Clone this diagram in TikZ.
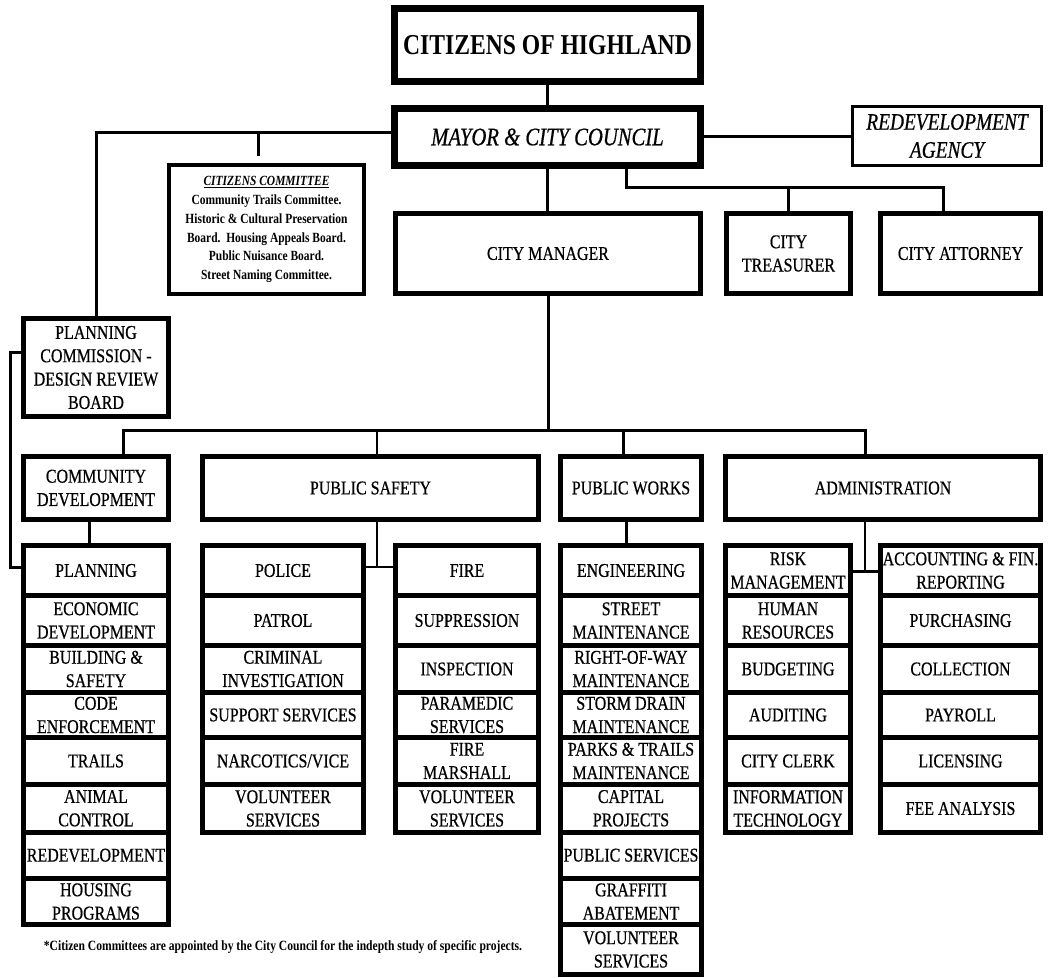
\documentclass[tikz,border=0pt]{standalone}
\usepackage{fontspec}
\setmainfont{Liberation Serif}[FakeStretch=0.82, UprightFeatures={FakeBold=0.6}, ItalicFeatures={FakeBold=0.6}]
\usetikzlibrary{calc}
\tikzset{
  box/.style={draw, line width=3.75pt, inner sep=0pt, outer sep=0pt, align=center,
    font=\fontsize{14.6}{17.5}\selectfont},
  heavy/.style={line width=5.25pt},
  lightbox/.style={line width=2.25pt},
  conn/.style={line width=2.25pt},
  thinconn/.style={line width=1.1pt},
}
\newcommand\orgbox[7][]{\node[box,#1,minimum width={(#5-#3)*0.75pt},minimum height={(#6-#4)*0.75pt}] (#2) at ({(#3+#5)/2},{(#4+#6)/2}) {#7};}
\begin{document}
\begin{tikzpicture}[x=0.75pt,y=-0.75pt]
\useasboundingbox (0,0) rectangle (1062,977);
% top level
\orgbox[heavy,font=\fontsize{21.6}{24}\selectfont\bfseries]{citizens}{394.5}{8.5}{700.5}{81.5}{CITIZENS OF HIGHLAND}
\orgbox[heavy,font=\fontsize{18.9}{21}\selectfont\itshape]{mayor}{394.5}{108.5}{700.5}{165.5}{MAYOR \& CITY COUNCIL}
\orgbox[lightbox,font=\fontsize{17.7}{21}\selectfont\itshape]{redev}{852.5}{106.5}{1041.5}{165.5}{REDEVELOPMENT\\AGENCY}
\orgbox[line width=3.4pt,font=\fontsize{10.5}{14.2}\selectfont\bfseries]{committee}{169}{165}{364}{294}{\underline{\textit{CITIZENS COMMITTEE}}\\Community Trails Committee.\\Historic \& Cultural Preservation\\Board.\ \ Housing Appeals Board.\\Public Nuisance Board.\\Street Naming Committee.}
\orgbox{cityman}{395.5}{213.5}{700.5}{293.5}{CITY MANAGER}
\orgbox{treasurer}{726.5}{213.5}{850.5}{293.5}{CITY\\TREASURER}
\orgbox{attorney}{880.5}{213.5}{1040.5}{293.5}{CITY ATTORNEY}
\orgbox{plancom}{23.5}{318.5}{168.5}{416.5}{PLANNING\\COMMISSION -\\DESIGN REVIEW\\BOARD}
% departments
\orgbox{commdev}{23.5}{456.5}{168.5}{519.5}{COMMUNITY\\DEVELOPMENT}
\orgbox{pubsafe}{202.5}{456.5}{538.5}{519.5}{PUBLIC SAFETY}
\orgbox{pubworks}{560.5}{456.5}{701.5}{519.5}{PUBLIC WORKS}
\orgbox{admin}{725.5}{456.5}{1040.5}{519.5}{ADMINISTRATION}
% community development column
\orgbox{cd1}{23.5}{545.5}{168.5}{595.5}{PLANNING}
\orgbox{cd2}{23.5}{595.5}{168.5}{645.5}{ECONOMIC\\DEVELOPMENT}
\orgbox{cd3}{23.5}{645.5}{168.5}{692.5}{BUILDING \&\\SAFETY}
\orgbox{cd4}{23.5}{692.5}{168.5}{737.5}{CODE\\ENFORCEMENT}
\orgbox{cd5}{23.5}{737.5}{168.5}{784.5}{TRAILS}
\orgbox{cd6}{23.5}{784.5}{168.5}{832}{ANIMAL\\CONTROL}
\orgbox{cd7}{23.5}{832}{168.5}{878.5}{\makebox[100pt][c]{REDEVELOPMENT}}
\orgbox{cd8}{23.5}{878.5}{168.5}{924.5}{HOUSING\\PROGRAMS}
% police column
\orgbox{po1}{202.5}{545.5}{363.5}{595.5}{POLICE}
\orgbox{po2}{202.5}{595.5}{363.5}{645.5}{PATROL}
\orgbox{po3}{202.5}{645.5}{363.5}{692.5}{CRIMINAL\\INVESTIGATION}
\orgbox{po4}{202.5}{692.5}{363.5}{737.5}{SUPPORT SERVICES}
\orgbox{po5}{202.5}{737.5}{363.5}{784.5}{NARCOTICS/VICE}
\orgbox{po6}{202.5}{784.5}{363.5}{832.5}{VOLUNTEER\\SERVICES}
% fire column
\orgbox{fi1}{395.5}{545.5}{538.5}{595.5}{FIRE}
\orgbox{fi2}{395.5}{595.5}{538.5}{645.5}{SUPPRESSION}
\orgbox{fi3}{395.5}{645.5}{538.5}{692.5}{INSPECTION}
\orgbox{fi4}{395.5}{692.5}{538.5}{737.5}{PARAMEDIC\\SERVICES}
\orgbox{fi5}{395.5}{737.5}{538.5}{784.5}{FIRE\\MARSHALL}
\orgbox{fi6}{395.5}{784.5}{538.5}{832.5}{VOLUNTEER\\SERVICES}
% public works column
\orgbox{pw1}{560.5}{545.5}{701.5}{595.5}{ENGINEERING}
\orgbox{pw2}{560.5}{595.5}{701.5}{645.5}{STREET\\MAINTENANCE}
\orgbox{pw3}{560.5}{645.5}{701.5}{692.5}{RIGHT-OF-WAY\\MAINTENANCE}
\orgbox{pw4}{560.5}{692.5}{701.5}{737.5}{STORM DRAIN\\MAINTENANCE}
\orgbox{pw5}{560.5}{737.5}{701.5}{784.5}{PARKS \& TRAILS\\MAINTENANCE}
\orgbox{pw6}{560.5}{784.5}{701.5}{832}{CAPITAL\\PROJECTS}
\orgbox{pw7}{560.5}{832}{701.5}{878.5}{\makebox[100pt][c]{PUBLIC SERVICES}}
\orgbox{pw8}{560.5}{878.5}{701.5}{924.5}{GRAFFITI\\ABATEMENT}
\orgbox{pw9}{560.5}{924.5}{701.5}{974.5}{VOLUNTEER\\SERVICES}
% administration left column
\orgbox{al1}{725.5}{545.5}{850.5}{595.5}{RISK\\MANAGEMENT}
\orgbox{al2}{725.5}{595.5}{850.5}{645.5}{HUMAN\\RESOURCES}
\orgbox{al3}{725.5}{645.5}{850.5}{692.5}{BUDGETING}
\orgbox{al4}{725.5}{692.5}{850.5}{737.5}{AUDITING}
\orgbox{al5}{725.5}{737.5}{850.5}{784.5}{CITY CLERK}
\orgbox{al6}{725.5}{784.5}{850.5}{832.5}{INFORMATION\\TECHNOLOGY}
% administration right column
\orgbox{ar1}{880.5}{545.5}{1040.5}{595.5}{\makebox[110pt][c]{ACCOUNTING \& FIN.}\\REPORTING}
\orgbox{ar2}{880.5}{595.5}{1040.5}{645.5}{PURCHASING}
\orgbox{ar3}{880.5}{645.5}{1040.5}{692.5}{COLLECTION}
\orgbox{ar4}{880.5}{692.5}{1040.5}{737.5}{PAYROLL}
\orgbox{ar5}{880.5}{737.5}{1040.5}{784.5}{LICENSING}
\orgbox{ar6}{880.5}{784.5}{1040.5}{832.5}{FEE ANALYSIS}
% footnote
\node[inner sep=0pt, font=\fontsize{10.6}{12}\selectfont\bfseries] (note) at (283,947) {*Citizen Committees are appointed by the City Council for the indepth study of specific projects.};
% connectors
\draw[conn] (citizens.south) -- (citizens.south |- mayor.north);
\draw[conn] (mayor.east) -- (mayor.east -| redev.west);
\draw[conn] ([yshift=3pt]mayor.west) -| (plancom.north);
\coordinate (ccT) at (258,156);
\coordinate (ccB) at (258,133);
\draw[conn] (ccB) -- (ccT);
\draw[conn] (mayor.south) -- (mayor.south |- cityman.north);
\coordinate (tA) at (626,187);
\coordinate (tB) at (943,187);
\draw[conn] (tA |- mayor.south) -- (tA) -- (tB) -- (tB |- attorney.north);
\draw[conn] (treasurer.north) -- (treasurer.north |- tA);
\coordinate (bL) at (123,430);
\coordinate (bR) at (865,430);
\coordinate (bPS) at (377,430);
\coordinate (bPW) at (623,430);
\draw[conn] (cityman.south) -- (cityman.south |- bL);
\draw[conn] (bL |- commdev.north) -- (bL) -- (bR) -- (bR |- admin.north);
\draw[thinconn] (bPS) -- (bPS |- pubsafe.north);
\draw[conn] (bPW) -- (bPW |- pubworks.north);
\coordinate (cdj) at (89,530);
\draw[conn] (cdj |- commdev.south) -- (cdj |- cd1.north);
\coordinate (psj) at (377,567);
\draw[thinconn] (psj |- pubsafe.south) -- (psj);
\draw[line width=1.5pt] (po1.east |- psj) -- (fi1.west |- psj);
\coordinate (pwj) at (626,530);
\draw[conn] (pwj |- pubworks.south) -- (pwj |- pw1.north);
\coordinate (adj) at (865,571);
\draw[thinconn] (adj |- admin.south) -- (adj);
\draw[conn] (al1.east |- adj) -- (ar1.west |- adj);
\coordinate (lp1) at (10,352);
\coordinate (lp2) at (10,567);
\draw[conn] (lp1 -| plancom.west) -- (lp1) -- (lp2) -- (lp2 -| cd1.west);
\end{tikzpicture}
\end{document}
